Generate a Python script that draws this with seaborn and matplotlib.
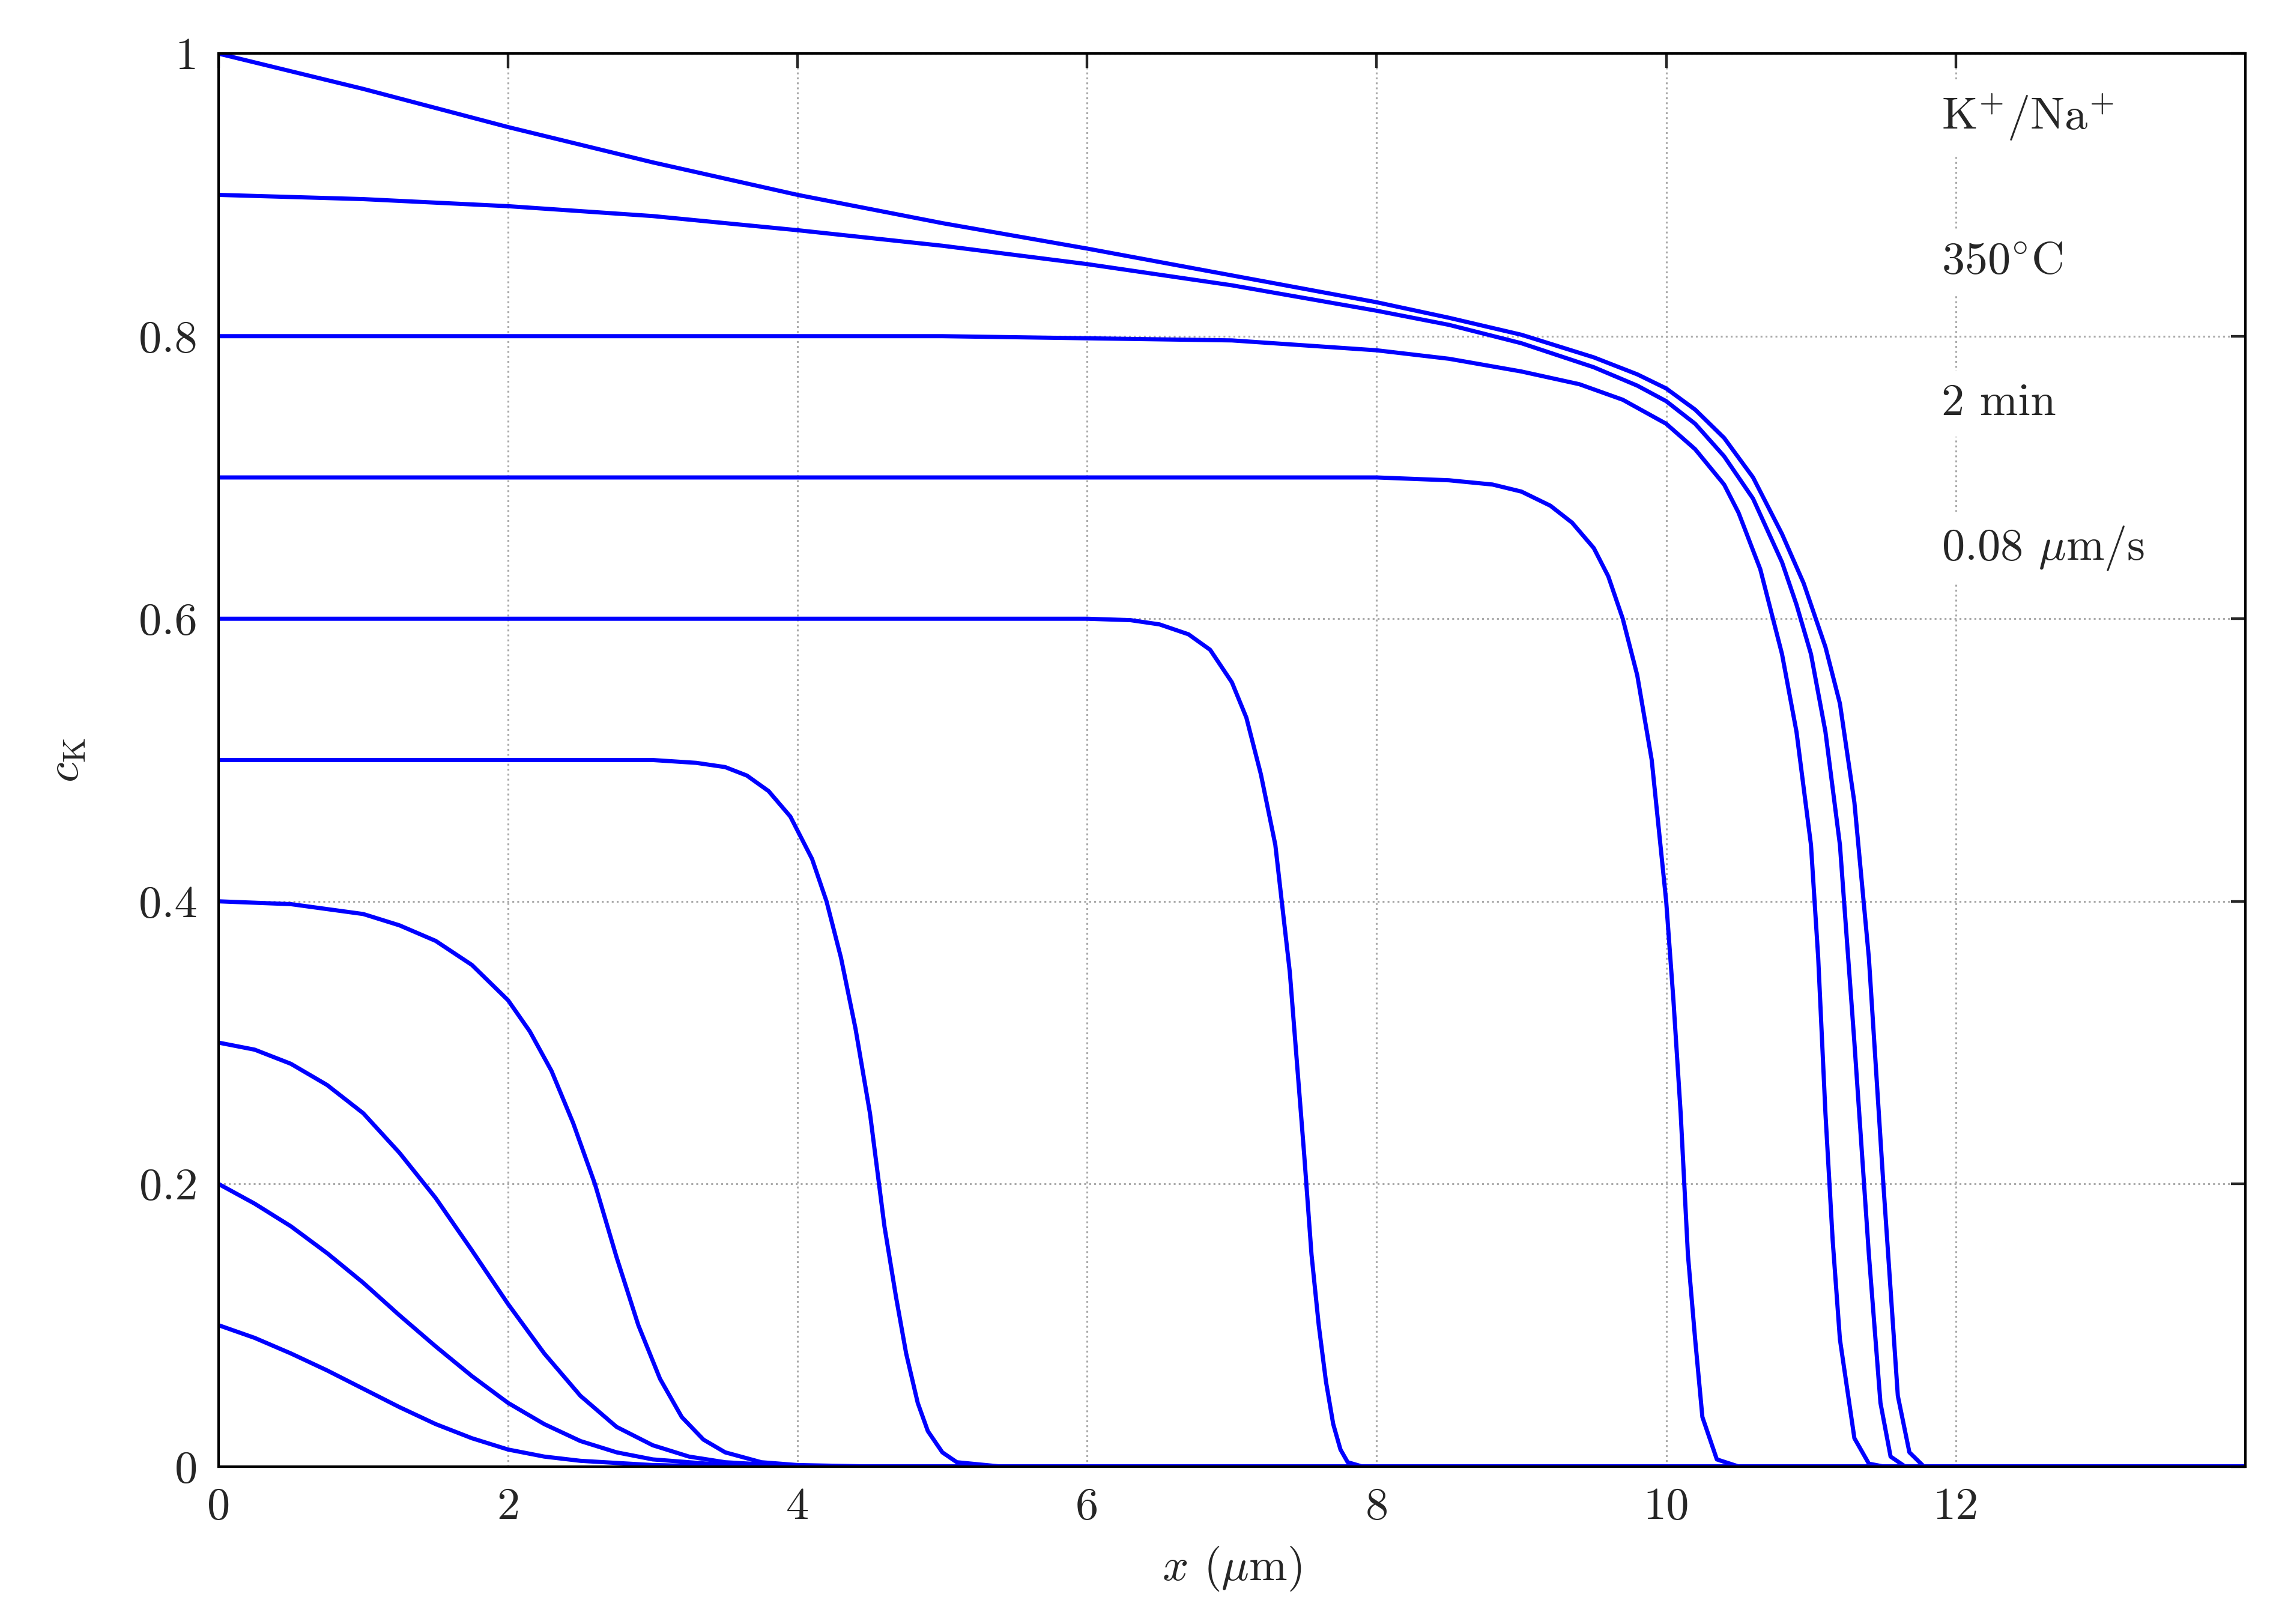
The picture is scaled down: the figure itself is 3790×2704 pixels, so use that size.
import matplotlib
matplotlib.use("Agg")
import matplotlib.pyplot as plt
import seaborn as sns
import pandas as pd

sns.set_theme(style="white")
plt.rcParams['font.family'] = ['serif']
plt.rcParams['font.serif'] = ['cmr10', 'DejaVu Serif']
plt.rcParams['mathtext.fontset'] = 'cm'
plt.rcParams['axes.formatter.use_mathtext'] = True

curves = {
    "0.1": ([0,0.25,0.5,0.75,1,1.25,1.5,1.75,2,2.25,2.5,3,3.5,14],
            [0.1,0.091,0.08,0.068,0.055,0.042,0.03,0.02,0.012,0.007,0.004,0.001,0,0]),
    "0.2": ([0,0.25,0.5,0.75,1,1.25,1.5,1.75,2,2.25,2.5,2.75,3,3.5,4,14],
            [0.2,0.186,0.17,0.151,0.13,0.107,0.085,0.064,0.045,0.03,0.018,0.01,0.005,0.001,0,0]),
    "0.3": ([0,0.25,0.5,0.75,1,1.25,1.5,1.75,2,2.25,2.5,2.75,3,3.25,3.5,4,14],
            [0.3,0.295,0.285,0.27,0.25,0.222,0.19,0.153,0.115,0.08,0.05,0.028,0.015,0.007,0.003,0,0]),
    "0.4": ([0,0.5,1,1.25,1.5,1.75,2,2.15,2.3,2.45,2.6,2.75,2.9,3.05,3.2,3.35,3.5,3.75,4,4.5,14],
            [0.4,0.398,0.391,0.383,0.372,0.355,0.33,0.308,0.28,0.243,0.2,0.148,0.1,0.062,0.035,0.019,0.01,0.003,0.001,0,0]),
    "0.5": ([0,3,3.3,3.5,3.65,3.8,3.95,4.1,4.2,4.3,4.4,4.5,4.6,4.68,4.75,4.83,4.9,5.0,5.1,5.4,14],
            [0.5,0.5,0.498,0.495,0.489,0.478,0.46,0.43,0.4,0.36,0.31,0.25,0.17,0.12,0.08,0.045,0.025,0.01,0.003,0,0]),
    "0.6": ([0,6,6.3,6.5,6.7,6.85,7.0,7.1,7.2,7.3,7.4,7.5,7.55,7.6,7.65,7.7,7.75,7.8,7.9,14],
            [0.6,0.6,0.599,0.596,0.589,0.578,0.555,0.53,0.49,0.44,0.35,0.22,0.15,0.1,0.06,0.03,0.012,0.003,0,0]),
    "0.7": ([0,8,8.5,8.8,9.0,9.2,9.35,9.5,9.6,9.7,9.8,9.9,10.0,10.05,10.1,10.15,10.2,10.25,10.35,10.5,14],
            [0.7,0.7,0.698,0.695,0.69,0.68,0.668,0.65,0.63,0.6,0.56,0.5,0.4,0.33,0.25,0.15,0.09,0.035,0.005,0,0]),
    "0.8": ([0,5,7,8,8.5,9,9.4,9.7,10.0,10.2,10.4,10.5,10.65,10.8,10.9,11.0,11.05,11.1,11.15,11.2,11.3,11.4,11.5,14],
            [0.8,0.8,0.797,0.79,0.784,0.775,0.766,0.755,0.738,0.72,0.695,0.675,0.635,0.575,0.52,0.44,0.36,0.25,0.16,0.09,0.02,0.002,0,0]),
    "0.9": ([0,1,2,3,4,5,6,7,8,8.5,9,9.5,9.8,10,10.2,10.4,10.6,10.8,10.9,11.0,11.1,11.2,11.3,11.4,11.48,11.55,11.65,14],
            [0.9,0.897,0.892,0.885,0.875,0.864,0.851,0.836,0.818,0.808,0.795,0.778,0.765,0.754,0.738,0.715,0.685,0.64,0.61,0.575,0.52,0.44,0.3,0.15,0.045,0.007,0,0]),
    "1.0": ([0,1,2,3,4,5,6,7,8,8.5,9,9.5,9.8,10,10.2,10.4,10.6,10.8,10.95,11.1,11.2,11.3,11.4,11.5,11.6,11.68,11.78,14],
            [1.0,0.975,0.948,0.923,0.9,0.88,0.862,0.843,0.824,0.813,0.801,0.785,0.773,0.763,0.748,0.728,0.7,0.66,0.625,0.58,0.54,0.47,0.36,0.2,0.05,0.01,0,0]),
}
xticks = [0, 2, 4, 6, 8, 10, 12]
yticks = [0, 0.2, 0.4, 0.6, 0.8, 1]
ytick_labels = ["0", "0.2", "0.4", "0.6", "0.8", "1"]
notes = [r"K$^{+}$/Na$^{+}$", r"350$^{\circ}$C", "2 min", r"0.08 $\mu$m/s"]
note_y = [0.955, 0.852, 0.752, 0.65]

rows = []
for k, (xs, ys) in curves.items():
    for x, y in zip(xs, ys):
        rows.append({"c0": k, "x": x, "y": y})
df = pd.DataFrame(rows)

fig = plt.figure(figsize=(15.16, 10.816), dpi=250)
ax = fig.add_axes([0.096, 0.097, 0.8905, 0.87])
sns.lineplot(data=df, x="x", y="y", hue="c0", palette=["#0000ff"] * len(curves),
             sort=False, estimator=None, linewidth=2.0, legend=False, ax=ax)
ax.set_xlim(0, 14)
ax.set_ylim(0, 1)
ax.set_xticks(xticks)
ax.set_xticklabels([str(t) for t in xticks])
ax.set_yticks(yticks)
ax.set_yticklabels(ytick_labels)
ax.grid(True, color="#aaaaaa", linestyle=":", linewidth=0.9)
ax.tick_params(direction="in", top=True, right=True, length=7, labelsize=22, pad=10)
for s in ax.spines.values():
    s.set_color("black"); s.set_linewidth(1.2)
ax.set_xlabel(r"$x$ ($\mu$m)", fontsize=22, labelpad=8)
ax.set_ylabel(r"$c_{\mathrm{K}}$", fontsize=22, labelpad=25)
for t, yy in zip(notes, note_y):
    ax.text(11.9, yy, t, fontsize=22, va="center", ha="left",
            bbox=dict(facecolor="white", edgecolor="none", pad=6))
fig.savefig("out.png", dpi=250)
